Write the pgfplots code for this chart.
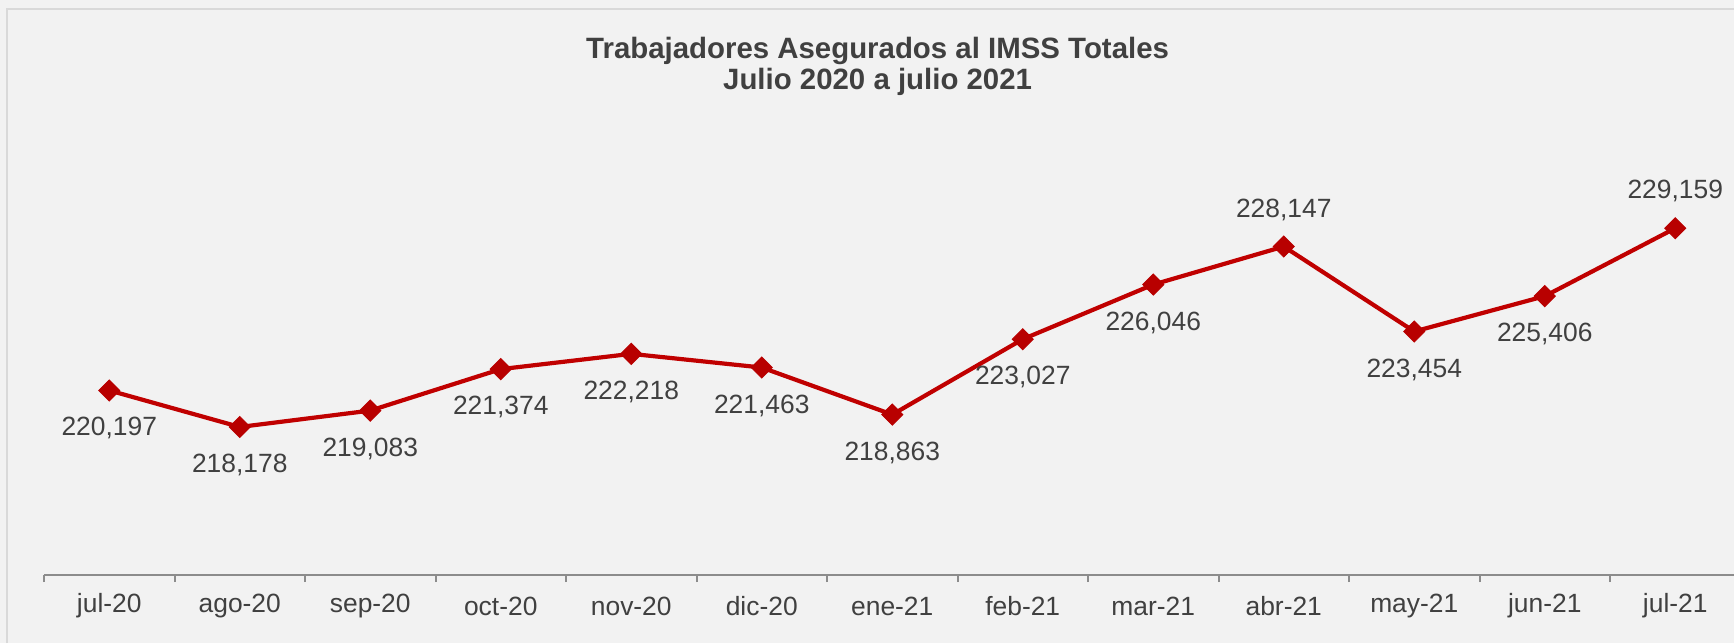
\documentclass[border=0pt]{standalone}
\usepackage{pgfplots}
\pgfplotsset{compat=1.18}
\usepackage{pgfplotstable}
\usepackage{fontspec}
\setmainfont{Liberation Sans}
\definecolor{bg}{HTML}{F2F2F2}
\definecolor{frame}{HTML}{D9D9D9}
\definecolor{txt}{HTML}{404040}
\definecolor{ttl}{HTML}{404040}
\definecolor{ln}{HTML}{C00000}
\definecolor{mk}{HTML}{B80000}
\definecolor{axc}{HTML}{8C8C8C}
\pgfplotstableread{
x y lab off
0 220197 220,197 -19
1 218178 218,178 -19
2 219083 219,083 -19
3 221374 221,374 -19
4 222218 222,218 -19
5 221463 221,463 -19
6 218863 218,863 -19
7 223027 223,027 -19
8 226046 226,046 -19
9 228147 228,147 18.5
10 223454 223,454 -19
11 225406 225,406 -19
12 229159 229,159 18.5
}\datatable
\begin{document}
\begin{tikzpicture}
\useasboundingbox (0,0) rectangle (867pt,321.5pt);
\fill[bg] (0,0) rectangle (867pt,321.5pt);
\draw[frame, line width=1pt] (3.5pt,0) -- (3.5pt,317pt) -- (870pt,317pt);
\node[text=ttl, font=\bfseries\fontsize{14.7}{15.5}\selectfont, align=center] at (438.8pt,288.5pt) {Trabajadores Asegurados al IMSS Totales\\Julio 2020 a julio 2021};
\begin{axis}[
  at={(22pt,34pt)}, anchor=south west,
  scale only axis, width=848.25pt, height=226.25pt,
  xmin=-0.5, xmax=12.5, ymin=210000, ymax=235000,
  clip=false,
  axis y line=none,
  axis x line*=bottom,
  x axis line style={-, draw=axc, line width=1pt},
  xtick={0,...,12},
  xticklabels={jul-20,ago-20,sep-20,oct-20,nov-20,dic-20,ene-21,feb-21,mar-21,abr-21,may-21,jun-21,jul-21},
  major tick length=0pt,
  minor xtick={-0.5,0.5,...,12.5},
  minor tick length=3.5pt,
  tick align=outside,
  minor tick style={draw=axc, line width=1pt},
  xticklabel style={font=\fontsize{13.2}{14}\selectfont, text=txt, anchor=center, yshift=-15.5pt},
  nodes near coords,
  point meta=explicit symbolic,
  visualization depends on={\thisrow{off} \as \off},
  every node near coord/.append style={anchor=center, yshift=\off pt, font=\fontsize{13.2}{14}\selectfont, text=txt},
]
\addplot[color=ln, line width=2.1pt, mark=square*, mark size=3.7pt, mark options={fill=mk, draw=mk, line width=0.5pt, rotate=45}]
  table[x=x, y=y, meta=lab] {\datatable};
\end{axis}
\end{tikzpicture}
\end{document}
